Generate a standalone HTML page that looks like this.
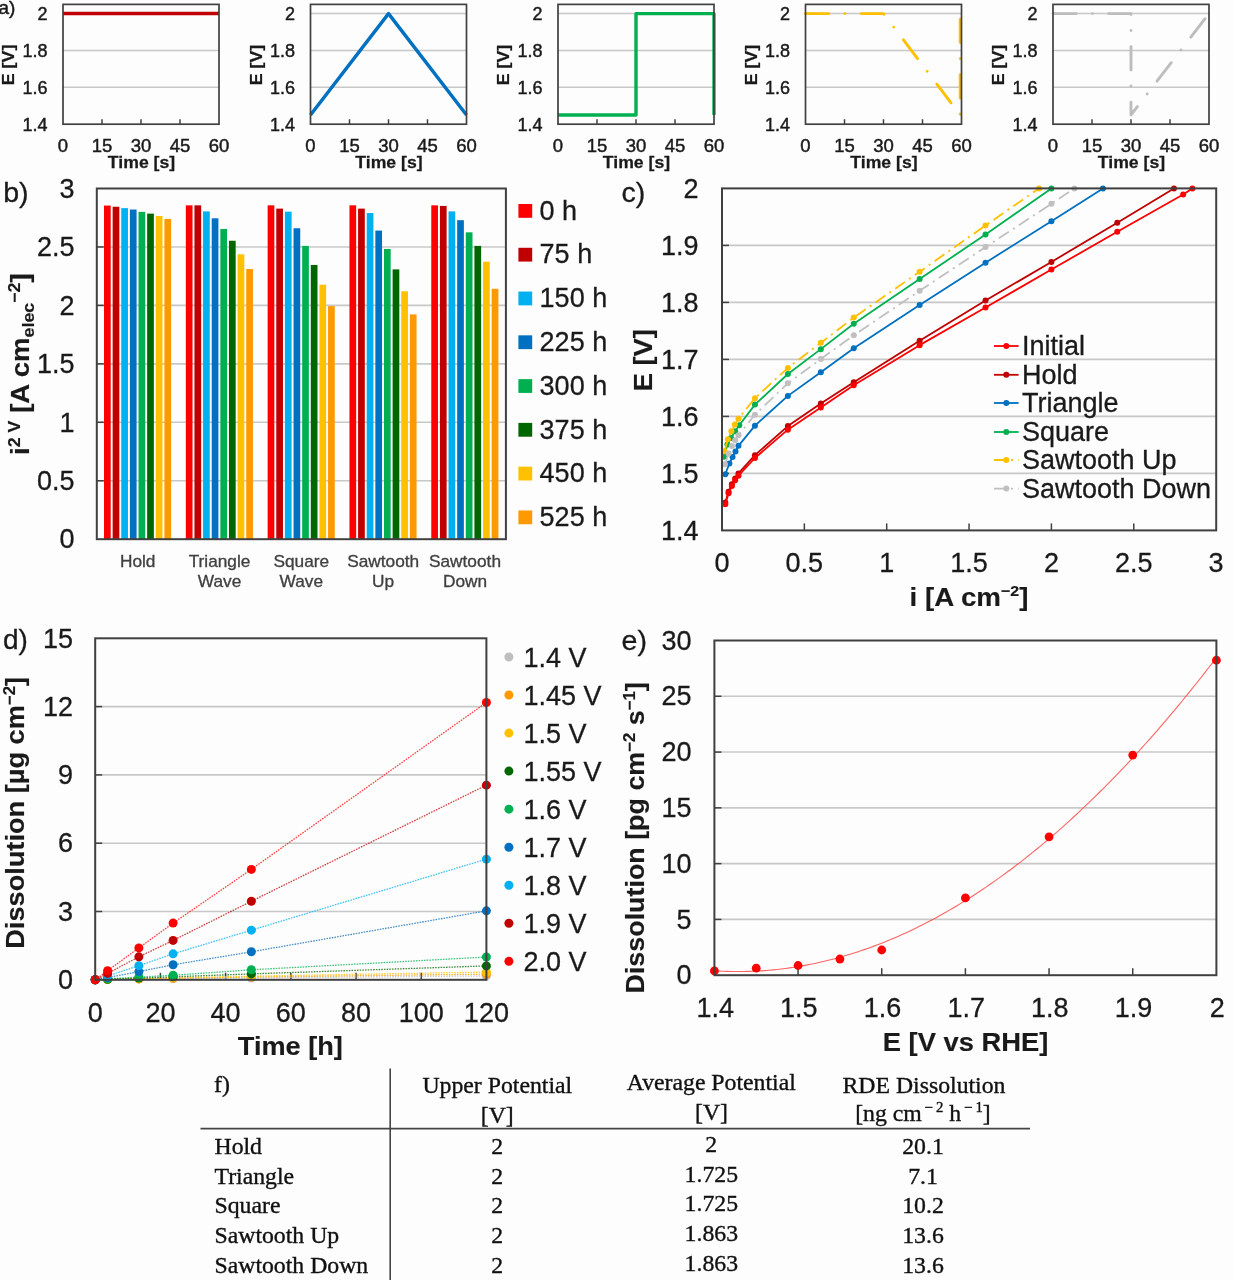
<!DOCTYPE html>
<html><head><meta charset="utf-8"><style>
html,body{margin:0;padding:0;background:#fdfdfd;}
svg{display:block;filter:blur(0.45px);}
</style></head><body>
<svg width="1234" height="1280" viewBox="0 0 1234 1280">
<rect width="1234" height="1280" fill="#fdfdfd"/>
<text x="-1.50" y="13.50" font-size="19" text-anchor="start" font-weight="normal" fill="#1a1a1a" font-family="'Liberation Sans',sans-serif" stroke="#1a1a1a" stroke-width="0.45">a)</text>
<line x1="63.00" y1="87.33" x2="219.00" y2="87.33" stroke="#c8c8c8" stroke-width="1.5"/>
<line x1="63.00" y1="50.46" x2="219.00" y2="50.46" stroke="#c8c8c8" stroke-width="1.5"/>
<line x1="63.00" y1="13.59" x2="219.00" y2="13.59" stroke="#c8c8c8" stroke-width="1.5"/>
<line x1="102.00" y1="124.20" x2="102.00" y2="119.20" stroke="#404040" stroke-width="1.5"/>
<line x1="141.00" y1="124.20" x2="141.00" y2="119.20" stroke="#404040" stroke-width="1.5"/>
<line x1="180.00" y1="124.20" x2="180.00" y2="119.20" stroke="#404040" stroke-width="1.5"/>
<polyline points="63.00,13.59 219.00,13.59" fill="none" stroke="#c00000" stroke-width="3.5" stroke-linejoin="round"/>
<rect x="63.00" y="4.40" width="156.00" height="119.80" fill="none" stroke="#404040" stroke-width="1.7"/>
<text x="47.50" y="20.09" font-size="18" text-anchor="end" font-weight="normal" fill="#1a1a1a" font-family="'Liberation Sans',sans-serif" stroke="#1a1a1a" stroke-width="0.45">2</text>
<text x="47.50" y="56.96" font-size="18" text-anchor="end" font-weight="normal" fill="#1a1a1a" font-family="'Liberation Sans',sans-serif" stroke="#1a1a1a" stroke-width="0.45">1.8</text>
<text x="47.50" y="93.83" font-size="18" text-anchor="end" font-weight="normal" fill="#1a1a1a" font-family="'Liberation Sans',sans-serif" stroke="#1a1a1a" stroke-width="0.45">1.6</text>
<text x="47.50" y="130.70" font-size="18" text-anchor="end" font-weight="normal" fill="#1a1a1a" font-family="'Liberation Sans',sans-serif" stroke="#1a1a1a" stroke-width="0.45">1.4</text>
<text x="63.00" y="152.00" font-size="18.5" text-anchor="middle" font-weight="normal" fill="#1a1a1a" font-family="'Liberation Sans',sans-serif" stroke="#1a1a1a" stroke-width="0.45">0</text>
<text x="102.00" y="152.00" font-size="18.5" text-anchor="middle" font-weight="normal" fill="#1a1a1a" font-family="'Liberation Sans',sans-serif" stroke="#1a1a1a" stroke-width="0.45">15</text>
<text x="141.00" y="152.00" font-size="18.5" text-anchor="middle" font-weight="normal" fill="#1a1a1a" font-family="'Liberation Sans',sans-serif" stroke="#1a1a1a" stroke-width="0.45">30</text>
<text x="180.00" y="152.00" font-size="18.5" text-anchor="middle" font-weight="normal" fill="#1a1a1a" font-family="'Liberation Sans',sans-serif" stroke="#1a1a1a" stroke-width="0.45">45</text>
<text x="219.00" y="152.00" font-size="18.5" text-anchor="middle" font-weight="normal" fill="#1a1a1a" font-family="'Liberation Sans',sans-serif" stroke="#1a1a1a" stroke-width="0.45">60</text>
<text x="141.50" y="168.40" font-size="16.8" text-anchor="middle" font-weight="bold" fill="#1a1a1a" font-family="'Liberation Sans',sans-serif" transform="translate(141.5 168.4) scale(1.05 1) translate(-141.5 -168.4)" stroke="#1a1a1a" stroke-width="0.25">Time [s]</text>
<text x="14.50" y="65.00" font-size="17" text-anchor="middle" font-weight="bold" fill="#1a1a1a" font-family="'Liberation Sans',sans-serif" transform="translate(14.5 65) rotate(-90) scale(1.05 1) translate(-14.5 -65)" stroke="#1a1a1a" stroke-width="0.25">E [V]</text>
<line x1="310.50" y1="87.33" x2="466.50" y2="87.33" stroke="#c8c8c8" stroke-width="1.5"/>
<line x1="310.50" y1="50.46" x2="466.50" y2="50.46" stroke="#c8c8c8" stroke-width="1.5"/>
<line x1="310.50" y1="13.59" x2="466.50" y2="13.59" stroke="#c8c8c8" stroke-width="1.5"/>
<line x1="349.50" y1="124.20" x2="349.50" y2="119.20" stroke="#404040" stroke-width="1.5"/>
<line x1="388.50" y1="124.20" x2="388.50" y2="119.20" stroke="#404040" stroke-width="1.5"/>
<line x1="427.50" y1="124.20" x2="427.50" y2="119.20" stroke="#404040" stroke-width="1.5"/>
<polyline points="310.50,114.98 388.50,13.59 466.50,114.98" fill="none" stroke="#0070c0" stroke-width="3.4" stroke-linejoin="round"/>
<rect x="310.50" y="4.40" width="156.00" height="119.80" fill="none" stroke="#404040" stroke-width="1.7"/>
<text x="295.00" y="20.09" font-size="18" text-anchor="end" font-weight="normal" fill="#1a1a1a" font-family="'Liberation Sans',sans-serif" stroke="#1a1a1a" stroke-width="0.45">2</text>
<text x="295.00" y="56.96" font-size="18" text-anchor="end" font-weight="normal" fill="#1a1a1a" font-family="'Liberation Sans',sans-serif" stroke="#1a1a1a" stroke-width="0.45">1.8</text>
<text x="295.00" y="93.83" font-size="18" text-anchor="end" font-weight="normal" fill="#1a1a1a" font-family="'Liberation Sans',sans-serif" stroke="#1a1a1a" stroke-width="0.45">1.6</text>
<text x="295.00" y="130.70" font-size="18" text-anchor="end" font-weight="normal" fill="#1a1a1a" font-family="'Liberation Sans',sans-serif" stroke="#1a1a1a" stroke-width="0.45">1.4</text>
<text x="310.50" y="152.00" font-size="18.5" text-anchor="middle" font-weight="normal" fill="#1a1a1a" font-family="'Liberation Sans',sans-serif" stroke="#1a1a1a" stroke-width="0.45">0</text>
<text x="349.50" y="152.00" font-size="18.5" text-anchor="middle" font-weight="normal" fill="#1a1a1a" font-family="'Liberation Sans',sans-serif" stroke="#1a1a1a" stroke-width="0.45">15</text>
<text x="388.50" y="152.00" font-size="18.5" text-anchor="middle" font-weight="normal" fill="#1a1a1a" font-family="'Liberation Sans',sans-serif" stroke="#1a1a1a" stroke-width="0.45">30</text>
<text x="427.50" y="152.00" font-size="18.5" text-anchor="middle" font-weight="normal" fill="#1a1a1a" font-family="'Liberation Sans',sans-serif" stroke="#1a1a1a" stroke-width="0.45">45</text>
<text x="466.50" y="152.00" font-size="18.5" text-anchor="middle" font-weight="normal" fill="#1a1a1a" font-family="'Liberation Sans',sans-serif" stroke="#1a1a1a" stroke-width="0.45">60</text>
<text x="389.00" y="168.40" font-size="16.8" text-anchor="middle" font-weight="bold" fill="#1a1a1a" font-family="'Liberation Sans',sans-serif" transform="translate(389.0 168.4) scale(1.05 1) translate(-389.0 -168.4)" stroke="#1a1a1a" stroke-width="0.25">Time [s]</text>
<text x="262.00" y="65.00" font-size="17" text-anchor="middle" font-weight="bold" fill="#1a1a1a" font-family="'Liberation Sans',sans-serif" transform="translate(262.0 65) rotate(-90) scale(1.05 1) translate(-262.0 -65)" stroke="#1a1a1a" stroke-width="0.25">E [V]</text>
<line x1="558.00" y1="87.33" x2="714.00" y2="87.33" stroke="#c8c8c8" stroke-width="1.5"/>
<line x1="558.00" y1="50.46" x2="714.00" y2="50.46" stroke="#c8c8c8" stroke-width="1.5"/>
<line x1="558.00" y1="13.59" x2="714.00" y2="13.59" stroke="#c8c8c8" stroke-width="1.5"/>
<line x1="597.00" y1="124.20" x2="597.00" y2="119.20" stroke="#404040" stroke-width="1.5"/>
<line x1="636.00" y1="124.20" x2="636.00" y2="119.20" stroke="#404040" stroke-width="1.5"/>
<line x1="675.00" y1="124.20" x2="675.00" y2="119.20" stroke="#404040" stroke-width="1.5"/>
<polyline points="558.00,114.98 636.00,114.98 636.00,13.59 714.00,13.59 714.00,114.98" fill="none" stroke="#00b050" stroke-width="3.4" stroke-linejoin="round" stroke-linejoin="miter"/>
<rect x="558.00" y="4.40" width="156.00" height="119.80" fill="none" stroke="#404040" stroke-width="1.7"/>
<text x="542.50" y="20.09" font-size="18" text-anchor="end" font-weight="normal" fill="#1a1a1a" font-family="'Liberation Sans',sans-serif" stroke="#1a1a1a" stroke-width="0.45">2</text>
<text x="542.50" y="56.96" font-size="18" text-anchor="end" font-weight="normal" fill="#1a1a1a" font-family="'Liberation Sans',sans-serif" stroke="#1a1a1a" stroke-width="0.45">1.8</text>
<text x="542.50" y="93.83" font-size="18" text-anchor="end" font-weight="normal" fill="#1a1a1a" font-family="'Liberation Sans',sans-serif" stroke="#1a1a1a" stroke-width="0.45">1.6</text>
<text x="542.50" y="130.70" font-size="18" text-anchor="end" font-weight="normal" fill="#1a1a1a" font-family="'Liberation Sans',sans-serif" stroke="#1a1a1a" stroke-width="0.45">1.4</text>
<text x="558.00" y="152.00" font-size="18.5" text-anchor="middle" font-weight="normal" fill="#1a1a1a" font-family="'Liberation Sans',sans-serif" stroke="#1a1a1a" stroke-width="0.45">0</text>
<text x="597.00" y="152.00" font-size="18.5" text-anchor="middle" font-weight="normal" fill="#1a1a1a" font-family="'Liberation Sans',sans-serif" stroke="#1a1a1a" stroke-width="0.45">15</text>
<text x="636.00" y="152.00" font-size="18.5" text-anchor="middle" font-weight="normal" fill="#1a1a1a" font-family="'Liberation Sans',sans-serif" stroke="#1a1a1a" stroke-width="0.45">30</text>
<text x="675.00" y="152.00" font-size="18.5" text-anchor="middle" font-weight="normal" fill="#1a1a1a" font-family="'Liberation Sans',sans-serif" stroke="#1a1a1a" stroke-width="0.45">45</text>
<text x="714.00" y="152.00" font-size="18.5" text-anchor="middle" font-weight="normal" fill="#1a1a1a" font-family="'Liberation Sans',sans-serif" stroke="#1a1a1a" stroke-width="0.45">60</text>
<text x="636.50" y="168.40" font-size="16.8" text-anchor="middle" font-weight="bold" fill="#1a1a1a" font-family="'Liberation Sans',sans-serif" transform="translate(636.5 168.4) scale(1.05 1) translate(-636.5 -168.4)" stroke="#1a1a1a" stroke-width="0.25">Time [s]</text>
<text x="509.50" y="65.00" font-size="17" text-anchor="middle" font-weight="bold" fill="#1a1a1a" font-family="'Liberation Sans',sans-serif" transform="translate(509.5 65) rotate(-90) scale(1.05 1) translate(-509.5 -65)" stroke="#1a1a1a" stroke-width="0.25">E [V]</text>
<line x1="805.50" y1="87.33" x2="961.50" y2="87.33" stroke="#c8c8c8" stroke-width="1.5"/>
<line x1="805.50" y1="50.46" x2="961.50" y2="50.46" stroke="#c8c8c8" stroke-width="1.5"/>
<line x1="805.50" y1="13.59" x2="961.50" y2="13.59" stroke="#c8c8c8" stroke-width="1.5"/>
<line x1="844.50" y1="124.20" x2="844.50" y2="119.20" stroke="#404040" stroke-width="1.5"/>
<line x1="883.50" y1="124.20" x2="883.50" y2="119.20" stroke="#404040" stroke-width="1.5"/>
<line x1="922.50" y1="124.20" x2="922.50" y2="119.20" stroke="#404040" stroke-width="1.5"/>
<polyline points="805.50,13.59 883.50,13.59 960.20,114.98 960.20,13.59" fill="none" stroke="#ffc000" stroke-width="2.9" stroke-linejoin="round" stroke-dasharray="23.4 16.05 0 16.05" stroke-linecap="round"/>
<rect x="805.50" y="4.40" width="156.00" height="119.80" fill="none" stroke="#404040" stroke-width="1.7"/>
<text x="790.00" y="20.09" font-size="18" text-anchor="end" font-weight="normal" fill="#1a1a1a" font-family="'Liberation Sans',sans-serif" stroke="#1a1a1a" stroke-width="0.45">2</text>
<text x="790.00" y="56.96" font-size="18" text-anchor="end" font-weight="normal" fill="#1a1a1a" font-family="'Liberation Sans',sans-serif" stroke="#1a1a1a" stroke-width="0.45">1.8</text>
<text x="790.00" y="93.83" font-size="18" text-anchor="end" font-weight="normal" fill="#1a1a1a" font-family="'Liberation Sans',sans-serif" stroke="#1a1a1a" stroke-width="0.45">1.6</text>
<text x="790.00" y="130.70" font-size="18" text-anchor="end" font-weight="normal" fill="#1a1a1a" font-family="'Liberation Sans',sans-serif" stroke="#1a1a1a" stroke-width="0.45">1.4</text>
<text x="805.50" y="152.00" font-size="18.5" text-anchor="middle" font-weight="normal" fill="#1a1a1a" font-family="'Liberation Sans',sans-serif" stroke="#1a1a1a" stroke-width="0.45">0</text>
<text x="844.50" y="152.00" font-size="18.5" text-anchor="middle" font-weight="normal" fill="#1a1a1a" font-family="'Liberation Sans',sans-serif" stroke="#1a1a1a" stroke-width="0.45">15</text>
<text x="883.50" y="152.00" font-size="18.5" text-anchor="middle" font-weight="normal" fill="#1a1a1a" font-family="'Liberation Sans',sans-serif" stroke="#1a1a1a" stroke-width="0.45">30</text>
<text x="922.50" y="152.00" font-size="18.5" text-anchor="middle" font-weight="normal" fill="#1a1a1a" font-family="'Liberation Sans',sans-serif" stroke="#1a1a1a" stroke-width="0.45">45</text>
<text x="961.50" y="152.00" font-size="18.5" text-anchor="middle" font-weight="normal" fill="#1a1a1a" font-family="'Liberation Sans',sans-serif" stroke="#1a1a1a" stroke-width="0.45">60</text>
<text x="884.00" y="168.40" font-size="16.8" text-anchor="middle" font-weight="bold" fill="#1a1a1a" font-family="'Liberation Sans',sans-serif" transform="translate(884.0 168.4) scale(1.05 1) translate(-884.0 -168.4)" stroke="#1a1a1a" stroke-width="0.25">Time [s]</text>
<text x="757.00" y="65.00" font-size="17" text-anchor="middle" font-weight="bold" fill="#1a1a1a" font-family="'Liberation Sans',sans-serif" transform="translate(757.0 65) rotate(-90) scale(1.05 1) translate(-757.0 -65)" stroke="#1a1a1a" stroke-width="0.25">E [V]</text>
<line x1="1053.00" y1="87.33" x2="1209.00" y2="87.33" stroke="#c8c8c8" stroke-width="1.5"/>
<line x1="1053.00" y1="50.46" x2="1209.00" y2="50.46" stroke="#c8c8c8" stroke-width="1.5"/>
<line x1="1053.00" y1="13.59" x2="1209.00" y2="13.59" stroke="#c8c8c8" stroke-width="1.5"/>
<line x1="1092.00" y1="124.20" x2="1092.00" y2="119.20" stroke="#404040" stroke-width="1.5"/>
<line x1="1131.00" y1="124.20" x2="1131.00" y2="119.20" stroke="#404040" stroke-width="1.5"/>
<line x1="1170.00" y1="124.20" x2="1170.00" y2="119.20" stroke="#404040" stroke-width="1.5"/>
<polyline points="1053.00,13.59 1131.00,13.59 1131.00,114.98 1209.00,13.59" fill="none" stroke="#bdbdbd" stroke-width="2.9" stroke-linejoin="round" stroke-dasharray="23.4 16.05 0 16.05" stroke-linecap="round"/>
<rect x="1053.00" y="4.40" width="156.00" height="119.80" fill="none" stroke="#404040" stroke-width="1.7"/>
<text x="1037.50" y="20.09" font-size="18" text-anchor="end" font-weight="normal" fill="#1a1a1a" font-family="'Liberation Sans',sans-serif" stroke="#1a1a1a" stroke-width="0.45">2</text>
<text x="1037.50" y="56.96" font-size="18" text-anchor="end" font-weight="normal" fill="#1a1a1a" font-family="'Liberation Sans',sans-serif" stroke="#1a1a1a" stroke-width="0.45">1.8</text>
<text x="1037.50" y="93.83" font-size="18" text-anchor="end" font-weight="normal" fill="#1a1a1a" font-family="'Liberation Sans',sans-serif" stroke="#1a1a1a" stroke-width="0.45">1.6</text>
<text x="1037.50" y="130.70" font-size="18" text-anchor="end" font-weight="normal" fill="#1a1a1a" font-family="'Liberation Sans',sans-serif" stroke="#1a1a1a" stroke-width="0.45">1.4</text>
<text x="1053.00" y="152.00" font-size="18.5" text-anchor="middle" font-weight="normal" fill="#1a1a1a" font-family="'Liberation Sans',sans-serif" stroke="#1a1a1a" stroke-width="0.45">0</text>
<text x="1092.00" y="152.00" font-size="18.5" text-anchor="middle" font-weight="normal" fill="#1a1a1a" font-family="'Liberation Sans',sans-serif" stroke="#1a1a1a" stroke-width="0.45">15</text>
<text x="1131.00" y="152.00" font-size="18.5" text-anchor="middle" font-weight="normal" fill="#1a1a1a" font-family="'Liberation Sans',sans-serif" stroke="#1a1a1a" stroke-width="0.45">30</text>
<text x="1170.00" y="152.00" font-size="18.5" text-anchor="middle" font-weight="normal" fill="#1a1a1a" font-family="'Liberation Sans',sans-serif" stroke="#1a1a1a" stroke-width="0.45">45</text>
<text x="1209.00" y="152.00" font-size="18.5" text-anchor="middle" font-weight="normal" fill="#1a1a1a" font-family="'Liberation Sans',sans-serif" stroke="#1a1a1a" stroke-width="0.45">60</text>
<text x="1131.50" y="168.40" font-size="16.8" text-anchor="middle" font-weight="bold" fill="#1a1a1a" font-family="'Liberation Sans',sans-serif" transform="translate(1131.5 168.4) scale(1.05 1) translate(-1131.5 -168.4)" stroke="#1a1a1a" stroke-width="0.25">Time [s]</text>
<text x="1004.50" y="65.00" font-size="17" text-anchor="middle" font-weight="bold" fill="#1a1a1a" font-family="'Liberation Sans',sans-serif" transform="translate(1004.5 65) rotate(-90) scale(1.05 1) translate(-1004.5 -65)" stroke="#1a1a1a" stroke-width="0.25">E [V]</text>
<text x="3.20" y="201.80" font-size="27.5" text-anchor="start" font-weight="normal" fill="#1a1a1a" font-family="'Liberation Sans',sans-serif" transform="translate(3.2 201.8) scale(1.04 1) translate(-3.2 -201.8)" stroke="#1a1a1a" stroke-width="0.3">b)</text>
<line x1="96.80" y1="480.75" x2="505.90" y2="480.75" stroke="#c8c8c8" stroke-width="1.6"/>
<line x1="96.80" y1="422.30" x2="505.90" y2="422.30" stroke="#c8c8c8" stroke-width="1.6"/>
<line x1="96.80" y1="363.85" x2="505.90" y2="363.85" stroke="#c8c8c8" stroke-width="1.6"/>
<line x1="96.80" y1="305.40" x2="505.90" y2="305.40" stroke="#c8c8c8" stroke-width="1.6"/>
<line x1="96.80" y1="246.95" x2="505.90" y2="246.95" stroke="#c8c8c8" stroke-width="1.6"/>
<rect x="104.00" y="205.57" width="6.70" height="333.63" fill="#ff0000"/>
<rect x="112.63" y="206.74" width="6.70" height="332.46" fill="#c00000"/>
<rect x="121.26" y="208.14" width="6.70" height="331.06" fill="#00b0f0"/>
<rect x="129.89" y="209.54" width="6.70" height="329.66" fill="#0070c0"/>
<rect x="138.52" y="211.88" width="6.70" height="327.32" fill="#00b050"/>
<rect x="147.15" y="213.63" width="6.70" height="325.57" fill="#006600"/>
<rect x="155.78" y="215.97" width="6.70" height="323.23" fill="#ffc000"/>
<rect x="164.41" y="218.89" width="6.70" height="320.31" fill="#ff9900"/>
<rect x="185.82" y="205.33" width="6.70" height="333.87" fill="#ff0000"/>
<rect x="194.45" y="205.33" width="6.70" height="333.87" fill="#c00000"/>
<rect x="203.08" y="211.41" width="6.70" height="327.79" fill="#00b0f0"/>
<rect x="211.71" y="218.31" width="6.70" height="320.89" fill="#0070c0"/>
<rect x="220.34" y="228.95" width="6.70" height="310.25" fill="#00b050"/>
<rect x="228.97" y="240.75" width="6.70" height="298.45" fill="#006600"/>
<rect x="237.60" y="254.31" width="6.70" height="284.89" fill="#ffc000"/>
<rect x="246.23" y="269.04" width="6.70" height="270.16" fill="#ff9900"/>
<rect x="267.64" y="205.33" width="6.70" height="333.87" fill="#ff0000"/>
<rect x="276.27" y="208.61" width="6.70" height="330.59" fill="#c00000"/>
<rect x="284.90" y="211.65" width="6.70" height="327.55" fill="#00b0f0"/>
<rect x="293.53" y="228.25" width="6.70" height="310.95" fill="#0070c0"/>
<rect x="302.16" y="245.90" width="6.70" height="293.30" fill="#00b050"/>
<rect x="310.79" y="264.95" width="6.70" height="274.25" fill="#006600"/>
<rect x="319.42" y="284.71" width="6.70" height="254.49" fill="#ffc000"/>
<rect x="328.05" y="306.10" width="6.70" height="233.10" fill="#ff9900"/>
<rect x="349.46" y="205.33" width="6.70" height="333.87" fill="#ff0000"/>
<rect x="358.09" y="208.61" width="6.70" height="330.59" fill="#c00000"/>
<rect x="366.72" y="213.05" width="6.70" height="326.15" fill="#00b0f0"/>
<rect x="375.35" y="230.58" width="6.70" height="308.62" fill="#0070c0"/>
<rect x="383.98" y="248.94" width="6.70" height="290.26" fill="#00b050"/>
<rect x="392.61" y="269.39" width="6.70" height="269.81" fill="#006600"/>
<rect x="401.24" y="291.26" width="6.70" height="247.94" fill="#ffc000"/>
<rect x="409.87" y="314.40" width="6.70" height="224.80" fill="#ff9900"/>
<rect x="431.28" y="205.33" width="6.70" height="333.87" fill="#ff0000"/>
<rect x="439.91" y="205.92" width="6.70" height="333.28" fill="#c00000"/>
<rect x="448.54" y="211.41" width="6.70" height="327.79" fill="#00b0f0"/>
<rect x="457.17" y="220.18" width="6.70" height="319.02" fill="#0070c0"/>
<rect x="465.80" y="232.34" width="6.70" height="306.86" fill="#00b050"/>
<rect x="474.43" y="245.90" width="6.70" height="293.30" fill="#006600"/>
<rect x="483.06" y="261.68" width="6.70" height="277.52" fill="#ffc000"/>
<rect x="491.69" y="288.80" width="6.70" height="250.40" fill="#ff9900"/>
<line x1="96.80" y1="480.75" x2="103.80" y2="480.75" stroke="#404040" stroke-width="1.5"/>
<line x1="96.80" y1="422.30" x2="103.80" y2="422.30" stroke="#404040" stroke-width="1.5"/>
<line x1="96.80" y1="363.85" x2="103.80" y2="363.85" stroke="#404040" stroke-width="1.5"/>
<line x1="96.80" y1="305.40" x2="103.80" y2="305.40" stroke="#404040" stroke-width="1.5"/>
<line x1="96.80" y1="246.95" x2="103.80" y2="246.95" stroke="#404040" stroke-width="1.5"/>
<rect x="96.80" y="188.50" width="409.10" height="350.70" fill="none" stroke="#404040" stroke-width="2"/>
<text x="74.50" y="548.40" font-size="27" text-anchor="end" font-weight="normal" fill="#1a1a1a" font-family="'Liberation Sans',sans-serif" stroke="#1a1a1a" stroke-width="0.3">0</text>
<text x="74.50" y="489.95" font-size="27" text-anchor="end" font-weight="normal" fill="#1a1a1a" font-family="'Liberation Sans',sans-serif" stroke="#1a1a1a" stroke-width="0.3">0.5</text>
<text x="74.50" y="431.50" font-size="27" text-anchor="end" font-weight="normal" fill="#1a1a1a" font-family="'Liberation Sans',sans-serif" stroke="#1a1a1a" stroke-width="0.3">1</text>
<text x="74.50" y="373.05" font-size="27" text-anchor="end" font-weight="normal" fill="#1a1a1a" font-family="'Liberation Sans',sans-serif" stroke="#1a1a1a" stroke-width="0.3">1.5</text>
<text x="74.50" y="314.60" font-size="27" text-anchor="end" font-weight="normal" fill="#1a1a1a" font-family="'Liberation Sans',sans-serif" stroke="#1a1a1a" stroke-width="0.3">2</text>
<text x="74.50" y="256.15" font-size="27" text-anchor="end" font-weight="normal" fill="#1a1a1a" font-family="'Liberation Sans',sans-serif" stroke="#1a1a1a" stroke-width="0.3">2.5</text>
<text x="74.50" y="197.70" font-size="27" text-anchor="end" font-weight="normal" fill="#1a1a1a" font-family="'Liberation Sans',sans-serif" stroke="#1a1a1a" stroke-width="0.3">3</text>
<text x="137.71" y="567.50" font-size="16" text-anchor="middle" font-weight="normal" fill="#404040" font-family="'Liberation Sans',sans-serif" transform="translate(137.70999999999998 567.5) scale(1.08 1) translate(-137.70999999999998 -567.5)" stroke="#404040" stroke-width="0.3">Hold</text>
<text x="219.53" y="567.50" font-size="16" text-anchor="middle" font-weight="normal" fill="#404040" font-family="'Liberation Sans',sans-serif" transform="translate(219.53 567.5) scale(1.08 1) translate(-219.53 -567.5)" stroke="#404040" stroke-width="0.3">Triangle</text>
<text x="219.53" y="587.50" font-size="16" text-anchor="middle" font-weight="normal" fill="#404040" font-family="'Liberation Sans',sans-serif" transform="translate(219.53 587.5) scale(1.08 1) translate(-219.53 -587.5)" stroke="#404040" stroke-width="0.3">Wave</text>
<text x="301.35" y="567.50" font-size="16" text-anchor="middle" font-weight="normal" fill="#404040" font-family="'Liberation Sans',sans-serif" transform="translate(301.35 567.5) scale(1.08 1) translate(-301.35 -567.5)" stroke="#404040" stroke-width="0.3">Square</text>
<text x="301.35" y="587.50" font-size="16" text-anchor="middle" font-weight="normal" fill="#404040" font-family="'Liberation Sans',sans-serif" transform="translate(301.35 587.5) scale(1.08 1) translate(-301.35 -587.5)" stroke="#404040" stroke-width="0.3">Wave</text>
<text x="383.17" y="567.50" font-size="16" text-anchor="middle" font-weight="normal" fill="#404040" font-family="'Liberation Sans',sans-serif" transform="translate(383.16999999999996 567.5) scale(1.08 1) translate(-383.16999999999996 -567.5)" stroke="#404040" stroke-width="0.3">Sawtooth</text>
<text x="383.17" y="587.50" font-size="16" text-anchor="middle" font-weight="normal" fill="#404040" font-family="'Liberation Sans',sans-serif" transform="translate(383.16999999999996 587.5) scale(1.08 1) translate(-383.16999999999996 -587.5)" stroke="#404040" stroke-width="0.3">Up</text>
<text x="464.99" y="567.50" font-size="16" text-anchor="middle" font-weight="normal" fill="#404040" font-family="'Liberation Sans',sans-serif" transform="translate(464.99 567.5) scale(1.08 1) translate(-464.99 -567.5)" stroke="#404040" stroke-width="0.3">Sawtooth</text>
<text x="464.99" y="587.50" font-size="16" text-anchor="middle" font-weight="normal" fill="#404040" font-family="'Liberation Sans',sans-serif" transform="translate(464.99 587.5) scale(1.08 1) translate(-464.99 -587.5)" stroke="#404040" stroke-width="0.3">Down</text>
<rect x="518.40" y="204.00" width="13.80" height="13.80" fill="#ff0000"/>
<text x="539.60" y="219.60" font-size="27" text-anchor="start" font-weight="normal" fill="#1a1a1a" font-family="'Liberation Sans',sans-serif" stroke="#1a1a1a" stroke-width="0.3">0 h</text>
<rect x="518.40" y="247.78" width="13.80" height="13.80" fill="#c00000"/>
<text x="539.60" y="263.38" font-size="27" text-anchor="start" font-weight="normal" fill="#1a1a1a" font-family="'Liberation Sans',sans-serif" stroke="#1a1a1a" stroke-width="0.3">75 h</text>
<rect x="518.40" y="291.56" width="13.80" height="13.80" fill="#00b0f0"/>
<text x="539.60" y="307.16" font-size="27" text-anchor="start" font-weight="normal" fill="#1a1a1a" font-family="'Liberation Sans',sans-serif" stroke="#1a1a1a" stroke-width="0.3">150 h</text>
<rect x="518.40" y="335.34" width="13.80" height="13.80" fill="#0070c0"/>
<text x="539.60" y="350.94" font-size="27" text-anchor="start" font-weight="normal" fill="#1a1a1a" font-family="'Liberation Sans',sans-serif" stroke="#1a1a1a" stroke-width="0.3">225 h</text>
<rect x="518.40" y="379.12" width="13.80" height="13.80" fill="#00b050"/>
<text x="539.60" y="394.72" font-size="27" text-anchor="start" font-weight="normal" fill="#1a1a1a" font-family="'Liberation Sans',sans-serif" stroke="#1a1a1a" stroke-width="0.3">300 h</text>
<rect x="518.40" y="422.90" width="13.80" height="13.80" fill="#006600"/>
<text x="539.60" y="438.50" font-size="27" text-anchor="start" font-weight="normal" fill="#1a1a1a" font-family="'Liberation Sans',sans-serif" stroke="#1a1a1a" stroke-width="0.3">375 h</text>
<rect x="518.40" y="466.68" width="13.80" height="13.80" fill="#ffc000"/>
<text x="539.60" y="482.28" font-size="27" text-anchor="start" font-weight="normal" fill="#1a1a1a" font-family="'Liberation Sans',sans-serif" stroke="#1a1a1a" stroke-width="0.3">450 h</text>
<rect x="518.40" y="510.46" width="13.80" height="13.80" fill="#ff9900"/>
<text x="539.60" y="526.06" font-size="27" text-anchor="start" font-weight="normal" fill="#1a1a1a" font-family="'Liberation Sans',sans-serif" stroke="#1a1a1a" stroke-width="0.3">525 h</text>
<text transform="translate(28.50,364.10) rotate(-90) scale(1.08,1)" text-anchor="middle" font-size="25.5" font-weight="bold" fill="#1a1a1a" font-family="'Liberation Sans',sans-serif" stroke="#1a1a1a" stroke-width="0.15">i<tspan font-size="16.5" dy="-9">2 V</tspan><tspan dy="9"> [A cm</tspan><tspan font-size="16.5" dy="5">elec</tspan><tspan font-size="16.5" dy="-14">−2</tspan><tspan dy="9">]</tspan></text>
<text x="621.50" y="202.20" font-size="27.5" text-anchor="start" font-weight="normal" fill="#1a1a1a" font-family="'Liberation Sans',sans-serif" transform="translate(621.5 202.2) scale(1.04 1) translate(-621.5 -202.2)" stroke="#1a1a1a" stroke-width="0.3">c)</text>
<line x1="722.00" y1="473.40" x2="1216.20" y2="473.40" stroke="#c8c8c8" stroke-width="1.6"/>
<line x1="722.00" y1="416.40" x2="1216.20" y2="416.40" stroke="#c8c8c8" stroke-width="1.6"/>
<line x1="722.00" y1="359.40" x2="1216.20" y2="359.40" stroke="#c8c8c8" stroke-width="1.6"/>
<line x1="722.00" y1="302.40" x2="1216.20" y2="302.40" stroke="#c8c8c8" stroke-width="1.6"/>
<line x1="722.00" y1="245.40" x2="1216.20" y2="245.40" stroke="#c8c8c8" stroke-width="1.6"/>
<line x1="722.00" y1="473.40" x2="729.00" y2="473.40" stroke="#404040" stroke-width="1.5"/>
<line x1="722.00" y1="416.40" x2="729.00" y2="416.40" stroke="#404040" stroke-width="1.5"/>
<line x1="722.00" y1="359.40" x2="729.00" y2="359.40" stroke="#404040" stroke-width="1.5"/>
<line x1="722.00" y1="302.40" x2="729.00" y2="302.40" stroke="#404040" stroke-width="1.5"/>
<line x1="722.00" y1="245.40" x2="729.00" y2="245.40" stroke="#404040" stroke-width="1.5"/>
<line x1="804.35" y1="530.40" x2="804.35" y2="523.40" stroke="#404040" stroke-width="1.5"/>
<line x1="886.70" y1="530.40" x2="886.70" y2="523.40" stroke="#404040" stroke-width="1.5"/>
<line x1="969.05" y1="530.40" x2="969.05" y2="523.40" stroke="#404040" stroke-width="1.5"/>
<line x1="1051.40" y1="530.40" x2="1051.40" y2="523.40" stroke="#404040" stroke-width="1.5"/>
<line x1="1133.75" y1="530.40" x2="1133.75" y2="523.40" stroke="#404040" stroke-width="1.5"/>
<polyline points="725.29,502.47 728.59,491.64 731.88,484.23 735.18,478.53 738.47,473.40 754.94,455.16 787.88,426.09 820.82,403.52 853.76,382.20 919.64,340.65 985.52,300.52 1051.40,261.93 1117.28,222.71 1173.94,188.40" fill="none" stroke="#c00000" stroke-width="1.8" stroke-linejoin="round"/>
<circle cx="725.29" cy="502.47" r="3.0" fill="#c00000"/>
<circle cx="728.59" cy="491.64" r="3.0" fill="#c00000"/>
<circle cx="731.88" cy="484.23" r="3.0" fill="#c00000"/>
<circle cx="735.18" cy="478.53" r="3.0" fill="#c00000"/>
<circle cx="738.47" cy="473.40" r="3.0" fill="#c00000"/>
<circle cx="754.94" cy="455.16" r="3.0" fill="#c00000"/>
<circle cx="787.88" cy="426.09" r="3.0" fill="#c00000"/>
<circle cx="820.82" cy="403.52" r="3.0" fill="#c00000"/>
<circle cx="853.76" cy="382.20" r="3.0" fill="#c00000"/>
<circle cx="919.64" cy="340.65" r="3.0" fill="#c00000"/>
<circle cx="985.52" cy="300.52" r="3.0" fill="#c00000"/>
<circle cx="1051.40" cy="261.93" r="3.0" fill="#c00000"/>
<circle cx="1117.28" cy="222.71" r="3.0" fill="#c00000"/>
<circle cx="1173.94" cy="188.40" r="3.0" fill="#c00000"/>
<polyline points="725.29,504.18 728.59,493.35 731.88,485.94 735.18,480.24 738.47,475.68 754.94,458.01 787.88,429.68 820.82,407.39 853.76,385.16 919.64,345.15 985.52,307.53 1051.40,269.57 1117.28,231.72 1183.16,194.50 1192.38,188.40" fill="none" stroke="#ff0000" stroke-width="1.8" stroke-linejoin="round"/>
<circle cx="725.29" cy="504.18" r="3.0" fill="#ff0000"/>
<circle cx="728.59" cy="493.35" r="3.0" fill="#ff0000"/>
<circle cx="731.88" cy="485.94" r="3.0" fill="#ff0000"/>
<circle cx="735.18" cy="480.24" r="3.0" fill="#ff0000"/>
<circle cx="738.47" cy="475.68" r="3.0" fill="#ff0000"/>
<circle cx="754.94" cy="458.01" r="3.0" fill="#ff0000"/>
<circle cx="787.88" cy="429.68" r="3.0" fill="#ff0000"/>
<circle cx="820.82" cy="407.39" r="3.0" fill="#ff0000"/>
<circle cx="853.76" cy="385.16" r="3.0" fill="#ff0000"/>
<circle cx="919.64" cy="345.15" r="3.0" fill="#ff0000"/>
<circle cx="985.52" cy="307.53" r="3.0" fill="#ff0000"/>
<circle cx="1051.40" cy="269.57" r="3.0" fill="#ff0000"/>
<circle cx="1117.28" cy="231.72" r="3.0" fill="#ff0000"/>
<circle cx="1183.16" cy="194.50" r="3.0" fill="#ff0000"/>
<circle cx="1192.38" cy="188.40" r="3.0" fill="#ff0000"/>
<polyline points="725.29,474.20 729.41,463.42 732.54,456.98 735.51,451.40 738.47,445.81 754.94,425.63 787.88,395.88 820.82,372.17 853.76,348.28 919.64,305.08 985.52,262.67 1051.40,221.23 1102.95,188.40" fill="none" stroke="#0070c0" stroke-width="1.8" stroke-linejoin="round"/>
<circle cx="725.29" cy="474.20" r="3.0" fill="#0070c0"/>
<circle cx="729.41" cy="463.42" r="3.0" fill="#0070c0"/>
<circle cx="732.54" cy="456.98" r="3.0" fill="#0070c0"/>
<circle cx="735.51" cy="451.40" r="3.0" fill="#0070c0"/>
<circle cx="738.47" cy="445.81" r="3.0" fill="#0070c0"/>
<circle cx="754.94" cy="425.63" r="3.0" fill="#0070c0"/>
<circle cx="787.88" cy="395.88" r="3.0" fill="#0070c0"/>
<circle cx="820.82" cy="372.17" r="3.0" fill="#0070c0"/>
<circle cx="853.76" cy="348.28" r="3.0" fill="#0070c0"/>
<circle cx="919.64" cy="305.08" r="3.0" fill="#0070c0"/>
<circle cx="985.52" cy="262.67" r="3.0" fill="#0070c0"/>
<circle cx="1051.40" cy="221.23" r="3.0" fill="#0070c0"/>
<circle cx="1102.95" cy="188.40" r="3.0" fill="#0070c0"/>
<polyline points="723.98,456.87 727.44,444.50 731.06,438.06 735.18,431.22 739.29,425.23 754.94,404.60 787.88,373.99 820.82,349.14 853.76,323.77 919.64,278.92 985.52,234.57 1051.40,188.40" fill="none" stroke="#00b050" stroke-width="1.8" stroke-linejoin="round"/>
<circle cx="723.98" cy="456.87" r="3.0" fill="#00b050"/>
<circle cx="727.44" cy="444.50" r="3.0" fill="#00b050"/>
<circle cx="731.06" cy="438.06" r="3.0" fill="#00b050"/>
<circle cx="735.18" cy="431.22" r="3.0" fill="#00b050"/>
<circle cx="739.29" cy="425.23" r="3.0" fill="#00b050"/>
<circle cx="754.94" cy="404.60" r="3.0" fill="#00b050"/>
<circle cx="787.88" cy="373.99" r="3.0" fill="#00b050"/>
<circle cx="820.82" cy="349.14" r="3.0" fill="#00b050"/>
<circle cx="853.76" cy="323.77" r="3.0" fill="#00b050"/>
<circle cx="919.64" cy="278.92" r="3.0" fill="#00b050"/>
<circle cx="985.52" cy="234.57" r="3.0" fill="#00b050"/>
<circle cx="1051.40" cy="188.40" r="3.0" fill="#00b050"/>
<polyline points="724.47,451.17 727.93,439.20 731.39,431.22 734.85,424.38 738.47,418.68 754.94,398.16 787.88,367.89 820.82,342.87 853.76,317.56 919.64,271.73 985.52,225.45 1039.05,188.40" fill="none" stroke="#ffc000" stroke-width="1.8" stroke-linejoin="round" stroke-dasharray="12 5 2 5"/>
<circle cx="724.47" cy="451.17" r="3.0" fill="#ffc000"/>
<circle cx="727.93" cy="439.20" r="3.0" fill="#ffc000"/>
<circle cx="731.39" cy="431.22" r="3.0" fill="#ffc000"/>
<circle cx="734.85" cy="424.38" r="3.0" fill="#ffc000"/>
<circle cx="738.47" cy="418.68" r="3.0" fill="#ffc000"/>
<circle cx="754.94" cy="398.16" r="3.0" fill="#ffc000"/>
<circle cx="787.88" cy="367.89" r="3.0" fill="#ffc000"/>
<circle cx="820.82" cy="342.87" r="3.0" fill="#ffc000"/>
<circle cx="853.76" cy="317.56" r="3.0" fill="#ffc000"/>
<circle cx="919.64" cy="271.73" r="3.0" fill="#ffc000"/>
<circle cx="985.52" cy="225.45" r="3.0" fill="#ffc000"/>
<circle cx="1039.05" cy="188.40" r="3.0" fill="#ffc000"/>
<polyline points="724.96,464.28 728.59,453.45 731.88,446.04 735.18,440.34 738.47,435.21 754.94,414.69 787.88,383.34 820.82,359.00 853.76,335.35 919.64,290.83 985.52,247.11 1051.40,203.79 1074.46,188.40" fill="none" stroke="#c0c0c0" stroke-width="1.8" stroke-linejoin="round" stroke-dasharray="12 5 2 5"/>
<circle cx="724.96" cy="464.28" r="3.0" fill="#c0c0c0"/>
<circle cx="728.59" cy="453.45" r="3.0" fill="#c0c0c0"/>
<circle cx="731.88" cy="446.04" r="3.0" fill="#c0c0c0"/>
<circle cx="735.18" cy="440.34" r="3.0" fill="#c0c0c0"/>
<circle cx="738.47" cy="435.21" r="3.0" fill="#c0c0c0"/>
<circle cx="754.94" cy="414.69" r="3.0" fill="#c0c0c0"/>
<circle cx="787.88" cy="383.34" r="3.0" fill="#c0c0c0"/>
<circle cx="820.82" cy="359.00" r="3.0" fill="#c0c0c0"/>
<circle cx="853.76" cy="335.35" r="3.0" fill="#c0c0c0"/>
<circle cx="919.64" cy="290.83" r="3.0" fill="#c0c0c0"/>
<circle cx="985.52" cy="247.11" r="3.0" fill="#c0c0c0"/>
<circle cx="1051.40" cy="203.79" r="3.0" fill="#c0c0c0"/>
<circle cx="1074.46" cy="188.40" r="3.0" fill="#c0c0c0"/>
<rect x="722.00" y="188.40" width="494.20" height="342.00" fill="none" stroke="#404040" stroke-width="2"/>
<text x="698.50" y="539.60" font-size="27" text-anchor="end" font-weight="normal" fill="#1a1a1a" font-family="'Liberation Sans',sans-serif" stroke="#1a1a1a" stroke-width="0.3">1.4</text>
<text x="698.50" y="482.60" font-size="27" text-anchor="end" font-weight="normal" fill="#1a1a1a" font-family="'Liberation Sans',sans-serif" stroke="#1a1a1a" stroke-width="0.3">1.5</text>
<text x="698.50" y="425.60" font-size="27" text-anchor="end" font-weight="normal" fill="#1a1a1a" font-family="'Liberation Sans',sans-serif" stroke="#1a1a1a" stroke-width="0.3">1.6</text>
<text x="698.50" y="368.60" font-size="27" text-anchor="end" font-weight="normal" fill="#1a1a1a" font-family="'Liberation Sans',sans-serif" stroke="#1a1a1a" stroke-width="0.3">1.7</text>
<text x="698.50" y="311.60" font-size="27" text-anchor="end" font-weight="normal" fill="#1a1a1a" font-family="'Liberation Sans',sans-serif" stroke="#1a1a1a" stroke-width="0.3">1.8</text>
<text x="698.50" y="254.60" font-size="27" text-anchor="end" font-weight="normal" fill="#1a1a1a" font-family="'Liberation Sans',sans-serif" stroke="#1a1a1a" stroke-width="0.3">1.9</text>
<text x="698.50" y="197.60" font-size="27" text-anchor="end" font-weight="normal" fill="#1a1a1a" font-family="'Liberation Sans',sans-serif" stroke="#1a1a1a" stroke-width="0.3">2</text>
<text x="722.00" y="572.30" font-size="27" text-anchor="middle" font-weight="normal" fill="#1a1a1a" font-family="'Liberation Sans',sans-serif" stroke="#1a1a1a" stroke-width="0.3">0</text>
<text x="804.35" y="572.30" font-size="27" text-anchor="middle" font-weight="normal" fill="#1a1a1a" font-family="'Liberation Sans',sans-serif" stroke="#1a1a1a" stroke-width="0.3">0.5</text>
<text x="886.70" y="572.30" font-size="27" text-anchor="middle" font-weight="normal" fill="#1a1a1a" font-family="'Liberation Sans',sans-serif" stroke="#1a1a1a" stroke-width="0.3">1</text>
<text x="969.05" y="572.30" font-size="27" text-anchor="middle" font-weight="normal" fill="#1a1a1a" font-family="'Liberation Sans',sans-serif" stroke="#1a1a1a" stroke-width="0.3">1.5</text>
<text x="1051.40" y="572.30" font-size="27" text-anchor="middle" font-weight="normal" fill="#1a1a1a" font-family="'Liberation Sans',sans-serif" stroke="#1a1a1a" stroke-width="0.3">2</text>
<text x="1133.75" y="572.30" font-size="27" text-anchor="middle" font-weight="normal" fill="#1a1a1a" font-family="'Liberation Sans',sans-serif" stroke="#1a1a1a" stroke-width="0.3">2.5</text>
<text x="1216.10" y="572.30" font-size="27" text-anchor="middle" font-weight="normal" fill="#1a1a1a" font-family="'Liberation Sans',sans-serif" stroke="#1a1a1a" stroke-width="0.3">3</text>
<text transform="translate(969.00,605.50) scale(1.067,1)" text-anchor="middle" font-size="26" font-weight="bold" fill="#1a1a1a" font-family="'Liberation Sans',sans-serif" stroke="#1a1a1a" stroke-width="0.15">i [A cm<tspan font-size="15" dy="-10">−2</tspan><tspan dy="10">]</tspan></text>
<text transform="translate(651.50,360.30) rotate(-90) scale(1.05,1)" text-anchor="middle" font-size="26" font-weight="bold" fill="#1a1a1a" font-family="'Liberation Sans',sans-serif" stroke="#1a1a1a" stroke-width="0.15">E [V]</text>
<line x1="994.00" y1="346.00" x2="1018.60" y2="346.00" stroke="#ff0000" stroke-width="1.8"/>
<circle cx="1006.30" cy="346.00" r="3.0" fill="#ff0000"/>
<text x="1022.00" y="355.00" font-size="27" text-anchor="start" font-weight="normal" fill="#1a1a1a" font-family="'Liberation Sans',sans-serif" stroke="#1a1a1a" stroke-width="0.3">Initial</text>
<line x1="994.00" y1="374.80" x2="1018.60" y2="374.80" stroke="#c00000" stroke-width="1.8"/>
<circle cx="1006.30" cy="374.80" r="3.0" fill="#c00000"/>
<text x="1022.00" y="383.80" font-size="27" text-anchor="start" font-weight="normal" fill="#1a1a1a" font-family="'Liberation Sans',sans-serif" stroke="#1a1a1a" stroke-width="0.3">Hold</text>
<line x1="994.00" y1="403.00" x2="1018.60" y2="403.00" stroke="#0070c0" stroke-width="1.8"/>
<circle cx="1006.30" cy="403.00" r="3.0" fill="#0070c0"/>
<text x="1022.00" y="412.00" font-size="27" text-anchor="start" font-weight="normal" fill="#1a1a1a" font-family="'Liberation Sans',sans-serif" stroke="#1a1a1a" stroke-width="0.3">Triangle</text>
<line x1="994.00" y1="432.00" x2="1018.60" y2="432.00" stroke="#00b050" stroke-width="1.8"/>
<circle cx="1006.30" cy="432.00" r="3.0" fill="#00b050"/>
<text x="1022.00" y="441.00" font-size="27" text-anchor="start" font-weight="normal" fill="#1a1a1a" font-family="'Liberation Sans',sans-serif" stroke="#1a1a1a" stroke-width="0.3">Square</text>
<line x1="994.00" y1="460.00" x2="1018.60" y2="460.00" stroke="#ffc000" stroke-width="1.8" stroke-dasharray="12 5 2 5"/>
<circle cx="1006.30" cy="460.00" r="3.0" fill="#ffc000"/>
<text x="1022.00" y="469.00" font-size="27" text-anchor="start" font-weight="normal" fill="#1a1a1a" font-family="'Liberation Sans',sans-serif" stroke="#1a1a1a" stroke-width="0.3">Sawtooth Up</text>
<line x1="994.00" y1="488.60" x2="1018.60" y2="488.60" stroke="#c0c0c0" stroke-width="1.8" stroke-dasharray="12 5 2 5"/>
<circle cx="1006.30" cy="488.60" r="3.0" fill="#c0c0c0"/>
<text x="1022.00" y="497.60" font-size="27" text-anchor="start" font-weight="normal" fill="#1a1a1a" font-family="'Liberation Sans',sans-serif" stroke="#1a1a1a" stroke-width="0.3">Sawtooth Down</text>
<text x="3.00" y="649.20" font-size="27.5" text-anchor="start" font-weight="normal" fill="#1a1a1a" font-family="'Liberation Sans',sans-serif" transform="translate(3.0 649.2) scale(1.02 1) translate(-3.0 -649.2)" stroke="#1a1a1a" stroke-width="0.3">d)</text>
<line x1="95.20" y1="911.50" x2="486.40" y2="911.50" stroke="#c8c8c8" stroke-width="1.6"/>
<line x1="95.20" y1="843.20" x2="486.40" y2="843.20" stroke="#c8c8c8" stroke-width="1.6"/>
<line x1="95.20" y1="774.90" x2="486.40" y2="774.90" stroke="#c8c8c8" stroke-width="1.6"/>
<line x1="95.20" y1="706.60" x2="486.40" y2="706.60" stroke="#c8c8c8" stroke-width="1.6"/>
<line x1="95.20" y1="911.50" x2="102.20" y2="911.50" stroke="#404040" stroke-width="1.5"/>
<line x1="95.20" y1="843.20" x2="102.20" y2="843.20" stroke="#404040" stroke-width="1.5"/>
<line x1="95.20" y1="774.90" x2="102.20" y2="774.90" stroke="#404040" stroke-width="1.5"/>
<line x1="95.20" y1="706.60" x2="102.20" y2="706.60" stroke="#404040" stroke-width="1.5"/>
<line x1="160.40" y1="979.80" x2="160.40" y2="972.80" stroke="#404040" stroke-width="1.5"/>
<line x1="225.60" y1="979.80" x2="225.60" y2="972.80" stroke="#404040" stroke-width="1.5"/>
<line x1="290.80" y1="979.80" x2="290.80" y2="972.80" stroke="#404040" stroke-width="1.5"/>
<line x1="356.00" y1="979.80" x2="356.00" y2="972.80" stroke="#404040" stroke-width="1.5"/>
<line x1="421.20" y1="979.80" x2="421.20" y2="972.80" stroke="#404040" stroke-width="1.5"/>
<polyline points="95.20,979.80 107.59,979.57 138.88,979.12 173.11,978.66 251.35,977.98 486.40,975.93" fill="none" stroke="#bfbfbf" stroke-width="1.3" stroke-linejoin="round" stroke-dasharray="1.6 1.1" opacity="0.75"/>
<polyline points="95.20,979.80 107.59,979.57 138.88,978.89 173.11,978.21 251.35,977.07 486.40,974.11" fill="none" stroke="#ff9900" stroke-width="1.3" stroke-linejoin="round" stroke-dasharray="1.6 1.1" opacity="0.75"/>
<polyline points="95.20,979.80 107.59,979.46 138.88,978.66 173.11,977.75 251.35,976.16 486.40,972.06" fill="none" stroke="#ffc000" stroke-width="1.3" stroke-linejoin="round" stroke-dasharray="1.6 1.1" opacity="0.75"/>
<polyline points="95.20,979.80 107.59,979.34 138.88,977.98 173.11,976.84 251.35,973.88 486.40,965.91" fill="none" stroke="#006600" stroke-width="1.3" stroke-linejoin="round" stroke-dasharray="1.6 1.1" opacity="0.75"/>
<polyline points="95.20,979.80 107.59,978.89 138.88,977.07 173.11,975.25 251.35,969.78 486.40,957.03" fill="none" stroke="#00b050" stroke-width="1.3" stroke-linejoin="round" stroke-dasharray="1.6 1.1" opacity="0.75"/>
<polyline points="95.20,979.80 107.59,977.52 138.88,971.60 173.11,964.77 251.35,951.80 486.40,910.82" fill="none" stroke="#0070c0" stroke-width="1.3" stroke-linejoin="round" stroke-dasharray="1.6 1.1" opacity="0.75"/>
<polyline points="95.20,979.80 107.59,975.93 138.88,965.68 173.11,953.85 251.35,930.17 486.40,859.14" fill="none" stroke="#00b0f0" stroke-width="1.3" stroke-linejoin="round" stroke-dasharray="1.6 1.1" opacity="0.75"/>
<polyline points="95.20,979.80 107.59,973.43 138.88,956.81 173.11,940.41 251.35,901.25 486.40,785.14" fill="none" stroke="#c00000" stroke-width="1.3" stroke-linejoin="round" stroke-dasharray="1.6 1.1" opacity="0.75"/>
<polyline points="95.20,979.80 107.59,970.69 138.88,947.93 173.11,923.11 251.35,869.38 486.40,702.50" fill="none" stroke="#ff0000" stroke-width="1.3" stroke-linejoin="round" stroke-dasharray="1.6 1.1" opacity="0.75"/>
<circle cx="95.20" cy="979.80" r="4.5" fill="#bfbfbf"/>
<circle cx="107.59" cy="979.57" r="4.5" fill="#bfbfbf"/>
<circle cx="138.88" cy="979.12" r="4.5" fill="#bfbfbf"/>
<circle cx="173.11" cy="978.66" r="4.5" fill="#bfbfbf"/>
<circle cx="251.35" cy="977.98" r="4.5" fill="#bfbfbf"/>
<circle cx="486.40" cy="975.93" r="4.5" fill="#bfbfbf"/>
<circle cx="95.20" cy="979.80" r="4.5" fill="#ff9900"/>
<circle cx="107.59" cy="979.57" r="4.5" fill="#ff9900"/>
<circle cx="138.88" cy="978.89" r="4.5" fill="#ff9900"/>
<circle cx="173.11" cy="978.21" r="4.5" fill="#ff9900"/>
<circle cx="251.35" cy="977.07" r="4.5" fill="#ff9900"/>
<circle cx="486.40" cy="974.11" r="4.5" fill="#ff9900"/>
<circle cx="95.20" cy="979.80" r="4.5" fill="#ffc000"/>
<circle cx="107.59" cy="979.46" r="4.5" fill="#ffc000"/>
<circle cx="138.88" cy="978.66" r="4.5" fill="#ffc000"/>
<circle cx="173.11" cy="977.75" r="4.5" fill="#ffc000"/>
<circle cx="251.35" cy="976.16" r="4.5" fill="#ffc000"/>
<circle cx="486.40" cy="972.06" r="4.5" fill="#ffc000"/>
<circle cx="95.20" cy="979.80" r="4.5" fill="#006600"/>
<circle cx="107.59" cy="979.34" r="4.5" fill="#006600"/>
<circle cx="138.88" cy="977.98" r="4.5" fill="#006600"/>
<circle cx="173.11" cy="976.84" r="4.5" fill="#006600"/>
<circle cx="251.35" cy="973.88" r="4.5" fill="#006600"/>
<circle cx="486.40" cy="965.91" r="4.5" fill="#006600"/>
<circle cx="95.20" cy="979.80" r="4.5" fill="#00b050"/>
<circle cx="107.59" cy="978.89" r="4.5" fill="#00b050"/>
<circle cx="138.88" cy="977.07" r="4.5" fill="#00b050"/>
<circle cx="173.11" cy="975.25" r="4.5" fill="#00b050"/>
<circle cx="251.35" cy="969.78" r="4.5" fill="#00b050"/>
<circle cx="486.40" cy="957.03" r="4.5" fill="#00b050"/>
<circle cx="95.20" cy="979.80" r="4.5" fill="#0070c0"/>
<circle cx="107.59" cy="977.52" r="4.5" fill="#0070c0"/>
<circle cx="138.88" cy="971.60" r="4.5" fill="#0070c0"/>
<circle cx="173.11" cy="964.77" r="4.5" fill="#0070c0"/>
<circle cx="251.35" cy="951.80" r="4.5" fill="#0070c0"/>
<circle cx="486.40" cy="910.82" r="4.5" fill="#0070c0"/>
<circle cx="95.20" cy="979.80" r="4.5" fill="#00b0f0"/>
<circle cx="107.59" cy="975.93" r="4.5" fill="#00b0f0"/>
<circle cx="138.88" cy="965.68" r="4.5" fill="#00b0f0"/>
<circle cx="173.11" cy="953.85" r="4.5" fill="#00b0f0"/>
<circle cx="251.35" cy="930.17" r="4.5" fill="#00b0f0"/>
<circle cx="486.40" cy="859.14" r="4.5" fill="#00b0f0"/>
<circle cx="95.20" cy="979.80" r="4.5" fill="#c00000"/>
<circle cx="107.59" cy="973.43" r="4.5" fill="#c00000"/>
<circle cx="138.88" cy="956.81" r="4.5" fill="#c00000"/>
<circle cx="173.11" cy="940.41" r="4.5" fill="#c00000"/>
<circle cx="251.35" cy="901.25" r="4.5" fill="#c00000"/>
<circle cx="486.40" cy="785.14" r="4.5" fill="#c00000"/>
<circle cx="95.20" cy="979.80" r="4.5" fill="#ff0000"/>
<circle cx="107.59" cy="970.69" r="4.5" fill="#ff0000"/>
<circle cx="138.88" cy="947.93" r="4.5" fill="#ff0000"/>
<circle cx="173.11" cy="923.11" r="4.5" fill="#ff0000"/>
<circle cx="251.35" cy="869.38" r="4.5" fill="#ff0000"/>
<circle cx="486.40" cy="702.50" r="4.5" fill="#ff0000"/>
<rect x="95.20" y="638.30" width="391.20" height="341.50" fill="none" stroke="#404040" stroke-width="2"/>
<text x="73.00" y="989.00" font-size="27" text-anchor="end" font-weight="normal" fill="#1a1a1a" font-family="'Liberation Sans',sans-serif" stroke="#1a1a1a" stroke-width="0.3">0</text>
<text x="73.00" y="920.70" font-size="27" text-anchor="end" font-weight="normal" fill="#1a1a1a" font-family="'Liberation Sans',sans-serif" stroke="#1a1a1a" stroke-width="0.3">3</text>
<text x="73.00" y="852.40" font-size="27" text-anchor="end" font-weight="normal" fill="#1a1a1a" font-family="'Liberation Sans',sans-serif" stroke="#1a1a1a" stroke-width="0.3">6</text>
<text x="73.00" y="784.10" font-size="27" text-anchor="end" font-weight="normal" fill="#1a1a1a" font-family="'Liberation Sans',sans-serif" stroke="#1a1a1a" stroke-width="0.3">9</text>
<text x="73.00" y="715.80" font-size="27" text-anchor="end" font-weight="normal" fill="#1a1a1a" font-family="'Liberation Sans',sans-serif" stroke="#1a1a1a" stroke-width="0.3">12</text>
<text x="73.00" y="647.50" font-size="27" text-anchor="end" font-weight="normal" fill="#1a1a1a" font-family="'Liberation Sans',sans-serif" stroke="#1a1a1a" stroke-width="0.3">15</text>
<text x="95.20" y="1022.00" font-size="27" text-anchor="middle" font-weight="normal" fill="#1a1a1a" font-family="'Liberation Sans',sans-serif" stroke="#1a1a1a" stroke-width="0.3">0</text>
<text x="160.40" y="1022.00" font-size="27" text-anchor="middle" font-weight="normal" fill="#1a1a1a" font-family="'Liberation Sans',sans-serif" stroke="#1a1a1a" stroke-width="0.3">20</text>
<text x="225.60" y="1022.00" font-size="27" text-anchor="middle" font-weight="normal" fill="#1a1a1a" font-family="'Liberation Sans',sans-serif" stroke="#1a1a1a" stroke-width="0.3">40</text>
<text x="290.80" y="1022.00" font-size="27" text-anchor="middle" font-weight="normal" fill="#1a1a1a" font-family="'Liberation Sans',sans-serif" stroke="#1a1a1a" stroke-width="0.3">60</text>
<text x="356.00" y="1022.00" font-size="27" text-anchor="middle" font-weight="normal" fill="#1a1a1a" font-family="'Liberation Sans',sans-serif" stroke="#1a1a1a" stroke-width="0.3">80</text>
<text x="421.20" y="1022.00" font-size="27" text-anchor="middle" font-weight="normal" fill="#1a1a1a" font-family="'Liberation Sans',sans-serif" stroke="#1a1a1a" stroke-width="0.3">100</text>
<text x="486.40" y="1022.00" font-size="27" text-anchor="middle" font-weight="normal" fill="#1a1a1a" font-family="'Liberation Sans',sans-serif" stroke="#1a1a1a" stroke-width="0.3">120</text>
<text transform="translate(290.30,1054.60) scale(1.044,1)" text-anchor="middle" font-size="26" font-weight="bold" fill="#1a1a1a" font-family="'Liberation Sans',sans-serif" stroke="#1a1a1a" stroke-width="0.15">Time [h]</text>
<text transform="translate(24.00,812.80) rotate(-90) scale(1.026,1)" text-anchor="middle" font-size="26.5" font-weight="bold" fill="#1a1a1a" font-family="'Liberation Sans',sans-serif" stroke="#1a1a1a" stroke-width="0.15">Dissolution [µg cm<tspan font-size="16.5" dy="-9">−2</tspan><tspan dy="9">]</tspan></text>
<circle cx="508.90" cy="657.00" r="4.5" fill="#bfbfbf"/>
<text x="523.50" y="666.50" font-size="27" text-anchor="start" font-weight="normal" fill="#1a1a1a" font-family="'Liberation Sans',sans-serif" stroke="#1a1a1a" stroke-width="0.3">1.4 V</text>
<circle cx="508.90" cy="695.04" r="4.5" fill="#ff9900"/>
<text x="523.50" y="704.54" font-size="27" text-anchor="start" font-weight="normal" fill="#1a1a1a" font-family="'Liberation Sans',sans-serif" stroke="#1a1a1a" stroke-width="0.3">1.45 V</text>
<circle cx="508.90" cy="733.08" r="4.5" fill="#ffc000"/>
<text x="523.50" y="742.58" font-size="27" text-anchor="start" font-weight="normal" fill="#1a1a1a" font-family="'Liberation Sans',sans-serif" stroke="#1a1a1a" stroke-width="0.3">1.5 V</text>
<circle cx="508.90" cy="771.12" r="4.5" fill="#006600"/>
<text x="523.50" y="780.62" font-size="27" text-anchor="start" font-weight="normal" fill="#1a1a1a" font-family="'Liberation Sans',sans-serif" stroke="#1a1a1a" stroke-width="0.3">1.55 V</text>
<circle cx="508.90" cy="809.16" r="4.5" fill="#00b050"/>
<text x="523.50" y="818.66" font-size="27" text-anchor="start" font-weight="normal" fill="#1a1a1a" font-family="'Liberation Sans',sans-serif" stroke="#1a1a1a" stroke-width="0.3">1.6 V</text>
<circle cx="508.90" cy="847.20" r="4.5" fill="#0070c0"/>
<text x="523.50" y="856.70" font-size="27" text-anchor="start" font-weight="normal" fill="#1a1a1a" font-family="'Liberation Sans',sans-serif" stroke="#1a1a1a" stroke-width="0.3">1.7 V</text>
<circle cx="508.90" cy="885.24" r="4.5" fill="#00b0f0"/>
<text x="523.50" y="894.74" font-size="27" text-anchor="start" font-weight="normal" fill="#1a1a1a" font-family="'Liberation Sans',sans-serif" stroke="#1a1a1a" stroke-width="0.3">1.8 V</text>
<circle cx="508.90" cy="923.28" r="4.5" fill="#c00000"/>
<text x="523.50" y="932.78" font-size="27" text-anchor="start" font-weight="normal" fill="#1a1a1a" font-family="'Liberation Sans',sans-serif" stroke="#1a1a1a" stroke-width="0.3">1.9 V</text>
<circle cx="508.90" cy="961.32" r="4.5" fill="#ff0000"/>
<text x="523.50" y="970.82" font-size="27" text-anchor="start" font-weight="normal" fill="#1a1a1a" font-family="'Liberation Sans',sans-serif" stroke="#1a1a1a" stroke-width="0.3">2.0 V</text>
<text x="621.50" y="649.60" font-size="27.5" text-anchor="start" font-weight="normal" fill="#1a1a1a" font-family="'Liberation Sans',sans-serif" transform="translate(621.5 649.6) scale(1.04 1) translate(-621.5 -649.6)" stroke="#1a1a1a" stroke-width="0.3">e)</text>
<line x1="714.40" y1="919.42" x2="1216.40" y2="919.42" stroke="#c8c8c8" stroke-width="1.6"/>
<line x1="714.40" y1="863.63" x2="1216.40" y2="863.63" stroke="#c8c8c8" stroke-width="1.6"/>
<line x1="714.40" y1="807.85" x2="1216.40" y2="807.85" stroke="#c8c8c8" stroke-width="1.6"/>
<line x1="714.40" y1="752.07" x2="1216.40" y2="752.07" stroke="#c8c8c8" stroke-width="1.6"/>
<line x1="714.40" y1="696.28" x2="1216.40" y2="696.28" stroke="#c8c8c8" stroke-width="1.6"/>
<line x1="714.40" y1="919.42" x2="721.40" y2="919.42" stroke="#404040" stroke-width="1.5"/>
<line x1="714.40" y1="863.63" x2="721.40" y2="863.63" stroke="#404040" stroke-width="1.5"/>
<line x1="714.40" y1="807.85" x2="721.40" y2="807.85" stroke="#404040" stroke-width="1.5"/>
<line x1="714.40" y1="752.07" x2="721.40" y2="752.07" stroke="#404040" stroke-width="1.5"/>
<line x1="714.40" y1="696.28" x2="721.40" y2="696.28" stroke="#404040" stroke-width="1.5"/>
<line x1="798.07" y1="975.20" x2="798.07" y2="968.20" stroke="#404040" stroke-width="1.5"/>
<line x1="881.73" y1="975.20" x2="881.73" y2="968.20" stroke="#404040" stroke-width="1.5"/>
<line x1="965.40" y1="975.20" x2="965.40" y2="968.20" stroke="#404040" stroke-width="1.5"/>
<line x1="1049.07" y1="975.20" x2="1049.07" y2="968.20" stroke="#404040" stroke-width="1.5"/>
<line x1="1132.73" y1="975.20" x2="1132.73" y2="968.20" stroke="#404040" stroke-width="1.5"/>
<polyline points="714.40,970.82 718.58,971.06 722.77,971.25 726.95,971.40 731.13,971.50 735.32,971.55 739.50,971.56 743.68,971.51 747.87,971.42 752.05,971.28 756.23,971.09 760.42,970.86 764.60,970.58 768.78,970.24 772.97,969.86 777.15,969.44 781.33,968.96 785.52,968.44 789.70,967.87 793.88,967.25 798.07,966.58 802.25,965.86 806.43,965.10 810.62,964.29 814.80,963.43 818.98,962.52 823.17,961.57 827.35,960.56 831.53,959.51 835.72,958.41 839.90,957.27 844.08,956.07 848.27,954.83 852.45,953.54 856.63,952.20 860.82,950.81 865.00,949.38 869.18,947.90 873.37,946.36 877.55,944.79 881.73,943.16 885.92,941.48 890.10,939.76 894.28,937.99 898.47,936.17 902.65,934.31 906.83,932.39 911.02,930.43 915.20,928.42 919.38,926.36 923.57,924.26 927.75,922.10 931.93,919.90 936.12,917.65 940.30,915.35 944.48,913.01 948.67,910.61 952.85,908.17 957.03,905.68 961.22,903.14 965.40,900.56 969.58,897.92 973.77,895.24 977.95,892.51 982.13,889.73 986.32,886.91 990.50,884.04 994.68,881.11 998.87,878.15 1003.05,875.13 1007.23,872.06 1011.42,868.95 1015.60,865.79 1019.78,862.58 1023.97,859.32 1028.15,856.02 1032.33,852.66 1036.52,849.26 1040.70,845.81 1044.88,842.32 1049.07,838.77 1053.25,835.18 1057.43,831.54 1061.62,827.85 1065.80,824.11 1069.98,820.33 1074.17,816.50 1078.35,812.62 1082.53,808.69 1086.72,804.71 1090.90,800.69 1095.08,796.61 1099.27,792.49 1103.45,788.32 1107.63,784.11 1111.82,779.84 1116.00,775.53 1120.18,771.17 1124.37,766.76 1128.55,762.31 1132.73,757.80 1136.92,753.25 1141.10,748.65 1145.28,744.00 1149.47,739.31 1153.65,734.56 1157.83,729.77 1162.02,724.93 1166.20,720.05 1170.38,715.11 1174.57,710.13 1178.75,705.10 1182.93,700.02 1187.12,694.89 1191.30,689.71 1195.48,684.49 1199.67,679.22 1203.85,673.90 1208.03,668.53 1212.22,663.12 1216.40,657.65" fill="none" stroke="#ff3030" stroke-width="1.1" stroke-linejoin="round" opacity="0.75"/>
<circle cx="714.40" cy="970.96" r="4.4" fill="#ff0000"/>
<circle cx="756.23" cy="968.17" r="4.4" fill="#ff0000"/>
<circle cx="798.07" cy="965.49" r="4.4" fill="#ff0000"/>
<circle cx="839.90" cy="959.02" r="4.4" fill="#ff0000"/>
<circle cx="881.73" cy="949.99" r="4.4" fill="#ff0000"/>
<circle cx="965.40" cy="897.88" r="4.4" fill="#ff0000"/>
<circle cx="1049.07" cy="836.86" r="4.4" fill="#ff0000"/>
<circle cx="1132.73" cy="755.08" r="4.4" fill="#ff0000"/>
<circle cx="1216.40" cy="660.25" r="4.4" fill="#ff0000"/>
<rect x="714.40" y="640.50" width="502.00" height="334.70" fill="none" stroke="#404040" stroke-width="2"/>
<text x="691.50" y="984.40" font-size="27" text-anchor="end" font-weight="normal" fill="#1a1a1a" font-family="'Liberation Sans',sans-serif" stroke="#1a1a1a" stroke-width="0.3">0</text>
<text x="691.50" y="928.62" font-size="27" text-anchor="end" font-weight="normal" fill="#1a1a1a" font-family="'Liberation Sans',sans-serif" stroke="#1a1a1a" stroke-width="0.3">5</text>
<text x="691.50" y="872.83" font-size="27" text-anchor="end" font-weight="normal" fill="#1a1a1a" font-family="'Liberation Sans',sans-serif" stroke="#1a1a1a" stroke-width="0.3">10</text>
<text x="691.50" y="817.05" font-size="27" text-anchor="end" font-weight="normal" fill="#1a1a1a" font-family="'Liberation Sans',sans-serif" stroke="#1a1a1a" stroke-width="0.3">15</text>
<text x="691.50" y="761.27" font-size="27" text-anchor="end" font-weight="normal" fill="#1a1a1a" font-family="'Liberation Sans',sans-serif" stroke="#1a1a1a" stroke-width="0.3">20</text>
<text x="691.50" y="705.48" font-size="27" text-anchor="end" font-weight="normal" fill="#1a1a1a" font-family="'Liberation Sans',sans-serif" stroke="#1a1a1a" stroke-width="0.3">25</text>
<text x="691.50" y="649.70" font-size="27" text-anchor="end" font-weight="normal" fill="#1a1a1a" font-family="'Liberation Sans',sans-serif" stroke="#1a1a1a" stroke-width="0.3">30</text>
<text x="715.20" y="1016.80" font-size="27" text-anchor="middle" font-weight="normal" fill="#1a1a1a" font-family="'Liberation Sans',sans-serif" stroke="#1a1a1a" stroke-width="0.3">1.4</text>
<text x="798.87" y="1016.80" font-size="27" text-anchor="middle" font-weight="normal" fill="#1a1a1a" font-family="'Liberation Sans',sans-serif" stroke="#1a1a1a" stroke-width="0.3">1.5</text>
<text x="882.53" y="1016.80" font-size="27" text-anchor="middle" font-weight="normal" fill="#1a1a1a" font-family="'Liberation Sans',sans-serif" stroke="#1a1a1a" stroke-width="0.3">1.6</text>
<text x="966.20" y="1016.80" font-size="27" text-anchor="middle" font-weight="normal" fill="#1a1a1a" font-family="'Liberation Sans',sans-serif" stroke="#1a1a1a" stroke-width="0.3">1.7</text>
<text x="1049.87" y="1016.80" font-size="27" text-anchor="middle" font-weight="normal" fill="#1a1a1a" font-family="'Liberation Sans',sans-serif" stroke="#1a1a1a" stroke-width="0.3">1.8</text>
<text x="1133.53" y="1016.80" font-size="27" text-anchor="middle" font-weight="normal" fill="#1a1a1a" font-family="'Liberation Sans',sans-serif" stroke="#1a1a1a" stroke-width="0.3">1.9</text>
<text x="1217.20" y="1016.80" font-size="27" text-anchor="middle" font-weight="normal" fill="#1a1a1a" font-family="'Liberation Sans',sans-serif" stroke="#1a1a1a" stroke-width="0.3">2</text>
<text transform="translate(965.50,1050.50) scale(1.052,1)" text-anchor="middle" font-size="26" font-weight="bold" fill="#1a1a1a" font-family="'Liberation Sans',sans-serif" stroke="#1a1a1a" stroke-width="0.15">E [V vs RHE]</text>
<text transform="translate(643.50,837.90) rotate(-90) scale(1.014,1)" text-anchor="middle" font-size="26.5" font-weight="bold" fill="#1a1a1a" font-family="'Liberation Sans',sans-serif" stroke="#1a1a1a" stroke-width="0.15">Dissolution [pg cm<tspan font-size="16.5" dy="-9">−2</tspan><tspan dy="9"> s</tspan><tspan font-size="16.5" dy="-9">−1</tspan><tspan dy="9">]</tspan></text>
<line x1="390.20" y1="1068.50" x2="390.20" y2="1280.00" stroke="#444" stroke-width="1.6"/>
<line x1="200.50" y1="1128.60" x2="1030.00" y2="1128.60" stroke="#444" stroke-width="1.8"/>
<text x="214.00" y="1092.00" font-size="22.5" text-anchor="start" fill="#111" font-family="'Liberation Serif',serif" stroke="#111" stroke-width="0.35" transform="translate(214.00 1092.00) scale(1.056 1) translate(-214.00 -1092.00)">f)</text>
<text x="497.30" y="1092.60" font-size="22.5" text-anchor="middle" fill="#111" font-family="'Liberation Serif',serif" stroke="#111" stroke-width="0.35" transform="translate(497.30 1092.60) scale(1.056 1) translate(-497.30 -1092.60)">Upper Potential</text>
<text x="497.30" y="1123.00" font-size="22.5" text-anchor="middle" fill="#111" font-family="'Liberation Serif',serif" stroke="#111" stroke-width="0.35" transform="translate(497.30 1123.00) scale(1.056 1) translate(-497.30 -1123.00)">[V]</text>
<text x="711.30" y="1090.30" font-size="22.5" text-anchor="middle" fill="#111" font-family="'Liberation Serif',serif" stroke="#111" stroke-width="0.35" transform="translate(711.30 1090.30) scale(1.056 1) translate(-711.30 -1090.30)">Average Potential</text>
<text x="711.50" y="1120.50" font-size="22.5" text-anchor="middle" fill="#111" font-family="'Liberation Serif',serif" stroke="#111" stroke-width="0.35" transform="translate(711.50 1120.50) scale(1.056 1) translate(-711.50 -1120.50)">[V]</text>
<text x="924.00" y="1092.80" font-size="22.5" text-anchor="middle" fill="#111" font-family="'Liberation Serif',serif" stroke="#111" stroke-width="0.35" transform="translate(924.00 1092.80) scale(1.056 1) translate(-924.00 -1092.80)">RDE Dissolution</text>
<text x="923.00" y="1121.50" font-size="22.5" text-anchor="middle" fill="#111" font-family="'Liberation Serif',serif" stroke="#111" stroke-width="0.35" transform="translate(923.00 1121.50) scale(1.056 1) translate(-923.00 -1121.50)">[ng cm<tspan font-size="14" dy="-9"> − 2</tspan><tspan dy="9"> h</tspan><tspan font-size="14" dy="-9"> − 1</tspan><tspan dy="9">]</tspan></text>
<text x="214.50" y="1154.00" font-size="22.5" text-anchor="start" fill="#111" font-family="'Liberation Serif',serif" stroke="#111" stroke-width="0.35" transform="translate(214.50 1154.00) scale(1.056 1) translate(-214.50 -1154.00)">Hold</text>
<text x="497.30" y="1154.00" font-size="22.5" text-anchor="middle" fill="#111" font-family="'Liberation Serif',serif" stroke="#111" stroke-width="0.35" transform="translate(497.30 1154.00) scale(1.056 1) translate(-497.30 -1154.00)">2</text>
<text x="711.30" y="1152.00" font-size="22.5" text-anchor="middle" fill="#111" font-family="'Liberation Serif',serif" stroke="#111" stroke-width="0.35" transform="translate(711.30 1152.00) scale(1.056 1) translate(-711.30 -1152.00)">2</text>
<text x="923.00" y="1154.00" font-size="22.5" text-anchor="middle" fill="#111" font-family="'Liberation Serif',serif" stroke="#111" stroke-width="0.35" transform="translate(923.00 1154.00) scale(1.056 1) translate(-923.00 -1154.00)">20.1</text>
<text x="214.50" y="1183.75" font-size="22.5" text-anchor="start" fill="#111" font-family="'Liberation Serif',serif" stroke="#111" stroke-width="0.35" transform="translate(214.50 1183.75) scale(1.056 1) translate(-214.50 -1183.75)">Triangle</text>
<text x="497.30" y="1183.75" font-size="22.5" text-anchor="middle" fill="#111" font-family="'Liberation Serif',serif" stroke="#111" stroke-width="0.35" transform="translate(497.30 1183.75) scale(1.056 1) translate(-497.30 -1183.75)">2</text>
<text x="711.30" y="1181.75" font-size="22.5" text-anchor="middle" fill="#111" font-family="'Liberation Serif',serif" stroke="#111" stroke-width="0.35" transform="translate(711.30 1181.75) scale(1.056 1) translate(-711.30 -1181.75)">1.725</text>
<text x="923.00" y="1183.75" font-size="22.5" text-anchor="middle" fill="#111" font-family="'Liberation Serif',serif" stroke="#111" stroke-width="0.35" transform="translate(923.00 1183.75) scale(1.056 1) translate(-923.00 -1183.75)">7.1</text>
<text x="214.50" y="1213.50" font-size="22.5" text-anchor="start" fill="#111" font-family="'Liberation Serif',serif" stroke="#111" stroke-width="0.35" transform="translate(214.50 1213.50) scale(1.056 1) translate(-214.50 -1213.50)">Square</text>
<text x="497.30" y="1213.50" font-size="22.5" text-anchor="middle" fill="#111" font-family="'Liberation Serif',serif" stroke="#111" stroke-width="0.35" transform="translate(497.30 1213.50) scale(1.056 1) translate(-497.30 -1213.50)">2</text>
<text x="711.30" y="1211.50" font-size="22.5" text-anchor="middle" fill="#111" font-family="'Liberation Serif',serif" stroke="#111" stroke-width="0.35" transform="translate(711.30 1211.50) scale(1.056 1) translate(-711.30 -1211.50)">1.725</text>
<text x="923.00" y="1213.50" font-size="22.5" text-anchor="middle" fill="#111" font-family="'Liberation Serif',serif" stroke="#111" stroke-width="0.35" transform="translate(923.00 1213.50) scale(1.056 1) translate(-923.00 -1213.50)">10.2</text>
<text x="214.50" y="1243.25" font-size="22.5" text-anchor="start" fill="#111" font-family="'Liberation Serif',serif" stroke="#111" stroke-width="0.35" transform="translate(214.50 1243.25) scale(1.056 1) translate(-214.50 -1243.25)">Sawtooth Up</text>
<text x="497.30" y="1243.25" font-size="22.5" text-anchor="middle" fill="#111" font-family="'Liberation Serif',serif" stroke="#111" stroke-width="0.35" transform="translate(497.30 1243.25) scale(1.056 1) translate(-497.30 -1243.25)">2</text>
<text x="711.30" y="1241.25" font-size="22.5" text-anchor="middle" fill="#111" font-family="'Liberation Serif',serif" stroke="#111" stroke-width="0.35" transform="translate(711.30 1241.25) scale(1.056 1) translate(-711.30 -1241.25)">1.863</text>
<text x="923.00" y="1243.25" font-size="22.5" text-anchor="middle" fill="#111" font-family="'Liberation Serif',serif" stroke="#111" stroke-width="0.35" transform="translate(923.00 1243.25) scale(1.056 1) translate(-923.00 -1243.25)">13.6</text>
<text x="214.50" y="1273.00" font-size="22.5" text-anchor="start" fill="#111" font-family="'Liberation Serif',serif" stroke="#111" stroke-width="0.35" transform="translate(214.50 1273.00) scale(1.056 1) translate(-214.50 -1273.00)">Sawtooth Down</text>
<text x="497.30" y="1273.00" font-size="22.5" text-anchor="middle" fill="#111" font-family="'Liberation Serif',serif" stroke="#111" stroke-width="0.35" transform="translate(497.30 1273.00) scale(1.056 1) translate(-497.30 -1273.00)">2</text>
<text x="711.30" y="1271.00" font-size="22.5" text-anchor="middle" fill="#111" font-family="'Liberation Serif',serif" stroke="#111" stroke-width="0.35" transform="translate(711.30 1271.00) scale(1.056 1) translate(-711.30 -1271.00)">1.863</text>
<text x="923.00" y="1273.00" font-size="22.5" text-anchor="middle" fill="#111" font-family="'Liberation Serif',serif" stroke="#111" stroke-width="0.35" transform="translate(923.00 1273.00) scale(1.056 1) translate(-923.00 -1273.00)">13.6</text>
</svg>
</body></html>
